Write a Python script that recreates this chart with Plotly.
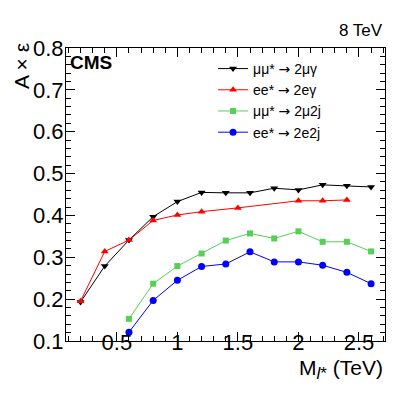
import plotly.graph_objects as go

# Data
mass_mumu_gamma = [0.2, 0.4, 0.6, 0.8, 1.0, 1.2, 1.4, 1.6, 1.8, 2.0, 2.2, 2.4, 2.6]
eff_mumu_gamma = [0.193, 0.279, 0.341, 0.397, 0.433, 0.455, 0.454, 0.454, 0.465, 0.461, 0.473, 0.471, 0.468]

mass_ee_gamma = [0.2, 0.4, 0.6, 0.8, 1.0, 1.2, 1.5, 2.0, 2.2, 2.4]
eff_ee_gamma = [0.195, 0.314, 0.341, 0.388, 0.401, 0.409, 0.418, 0.435, 0.435, 0.437]

mass_mumu_jj = [0.6, 0.8, 1.0, 1.2, 1.4, 1.6, 1.8, 2.0, 2.2, 2.4, 2.6]
eff_mumu_jj = [0.153, 0.237, 0.279, 0.309, 0.340, 0.357, 0.345, 0.362, 0.337, 0.337, 0.314]

mass_ee_jj = [0.6, 0.8, 1.0, 1.2, 1.4, 1.6, 1.8, 2.0, 2.2, 2.4, 2.6]
eff_ee_jj = [0.121, 0.197, 0.245, 0.278, 0.284, 0.313, 0.289, 0.289, 0.281, 0.264, 0.237]

FONT = "Liberation Sans, Arial, Helvetica, sans-serif"
ARROW = '<span style="font-family:DejaVu Sans">→</span>'

series = [
    ("μμ* " + ARROW + " 2μγ", mass_mumu_gamma, eff_mumu_gamma, "#000000", "triangle-down", 7),
    ("ee* " + ARROW + " 2eγ", mass_ee_gamma, eff_ee_gamma, "#ff0000", "triangle-up", 7),
    ("μμ* " + ARROW + " 2μ2j", mass_mumu_jj, eff_mumu_jj, "#55d055", "square", 6),
    ("ee* " + ARROW + " 2e2j", mass_ee_jj, eff_ee_jj, "#0000ff", "circle", 7),
]

fig = go.Figure()
for name, xs, ys, color, sym, size in series:
    fig.add_trace(go.Scatter(
        x=xs, y=ys, name=name, mode="lines+markers",
        line=dict(color=color, width=1),
        marker=dict(color=color, symbol=sym, size=size, line=dict(width=0)),
    ))

axis_common = dict(
    showgrid=False, zeroline=False, showline=True, linecolor="black", linewidth=1,
    mirror="ticks", ticks="inside", ticklen=9, tickcolor="black", tickwidth=1,
    tickfont=dict(family=FONT, size=22, color="black"),
)

fig.update_xaxes(
    range=[0.08, 2.715], tick0=0, dtick=0.5, ticklabelstandoff=-18,
    minor=dict(dtick=0.1, tick0=0, ticks="inside", ticklen=5, tickcolor="black"),
    **axis_common,
)
fig.update_yaxes(
    range=[0.1, 0.8], tick0=0, dtick=0.1, tickformat=".1f", ticklabelstandoff=-3,
    minor=dict(dtick=0.02, tick0=0, ticks="inside", ticklen=5, tickcolor="black"),
    **axis_common,
)

fig.update_layout(
    width=407, height=393,
    margin=dict(l=58, r=30, t=40, b=60),
    paper_bgcolor="white", plot_bgcolor="white",
    font=dict(family=FONT, color="black"),
    showlegend=True,
    legend=dict(
        x=0.461, y=0.983, xanchor="left", yanchor="top",
        bgcolor="rgba(0,0,0,0)", font=dict(family=FONT, size=14, color="black"),
        itemwidth=30, tracegroupgap=0,
    ),
    annotations=[
        dict(text="8 TeV", xref="paper", yref="paper", x=1.0, y=1.02,
             xanchor="right", yanchor="bottom", showarrow=False,
             font=dict(family=FONT, size=17, color="black")),
        dict(text="<b>CMS</b>", xref="paper", yref="paper", x=0.007, y=0.993,
             xanchor="left", yanchor="top", showarrow=False,
             font=dict(family=FONT, size=19, color="black")),
        dict(text="A × ε", xref="paper", yref="paper", x=-0.182, y=1.025,
             xanchor="left", yanchor="top", textangle=-90, showarrow=False,
             font=dict(family=FONT, size=21, color="black")),
        dict(text='M<sub><span style="font-size:17px"><i>l</i>*</span></sub> (TeV)',
             xref="paper", yref="paper", x=1.0, y=-0.045,
             xanchor="right", yanchor="top", showarrow=False,
             font=dict(family=FONT, size=21, color="black")),
    ],
)

fig.write_html("out.html")
